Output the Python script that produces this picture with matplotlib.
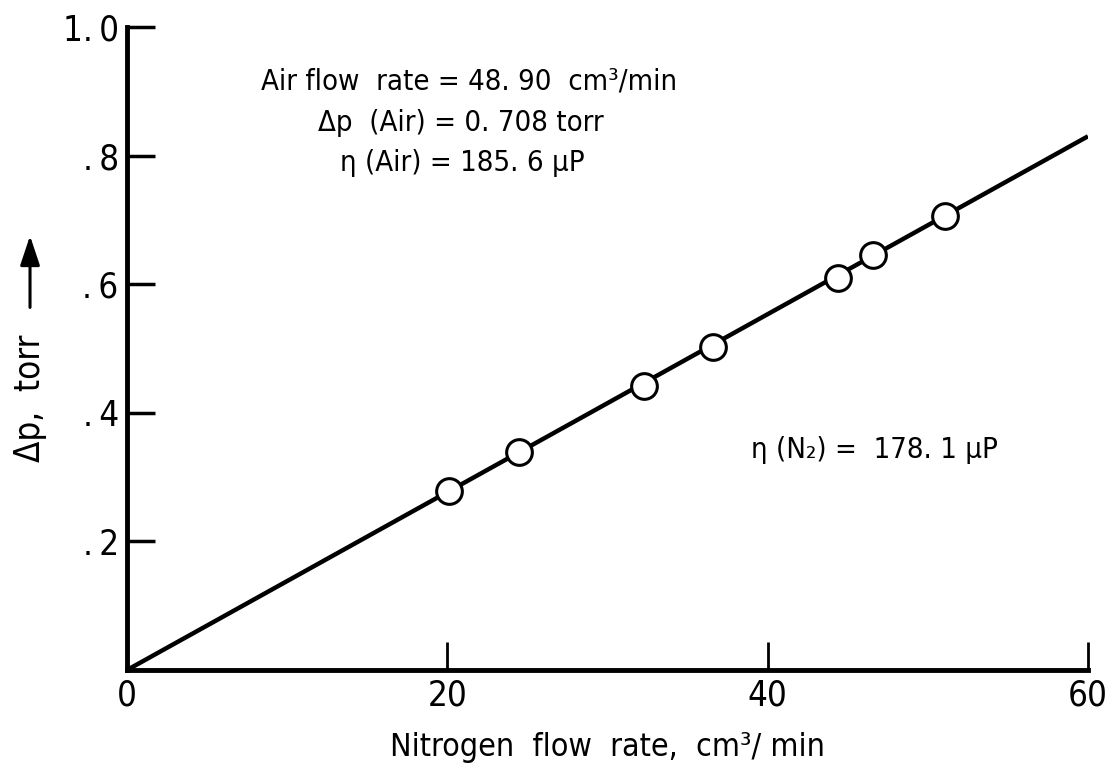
import matplotlib
matplotlib.use("Agg")
import matplotlib.pyplot as plt
import numpy as np

plt.rcParams['font.family'] = ['DejaVu Sans']
plt.rcParams['font.stretch'] = 'condensed'

# measured points
n2_flow = [20.1, 24.5, 32.3, 36.6, 44.4, 46.6, 51.1]
dp = [0.278, 0.339, 0.442, 0.503, 0.610, 0.646, 0.706]

# fitted line end points
line_x = [0, 60]
line_y = [0, 0.830]

x_ticks = [0, 20, 40, 60]
x_labels = ["0", "20", "40", "60"]
y_ticks = [0.2, 0.4, 0.6, 0.8, 1.0]
y_labels = [".\u20092", ".\u20094", ".\u20096", ".\u20098", "1.\u20090"]

fig = plt.figure(figsize=(11.12, 7.64), dpi=100)
ax = fig.add_axes([0.1142, 0.1230, 0.8642, 0.8417])

ax.plot(line_x, line_y, color="black", lw=3.2, solid_capstyle="butt", zorder=2)
ax.plot(n2_flow, dp, "o", ms=18.5, mfc="white", mec="black", mew=2.2, zorder=3)

ax.set_xlim(0, 60)
ax.set_ylim(0, 1.0)
for s in ["top", "right"]:
    ax.spines[s].set_visible(False)
for s in ["left", "bottom"]:
    ax.spines[s].set_linewidth(3.5)

ax.set_xticks(x_ticks)
ax.set_xticklabels(x_labels)
ax.set_yticks(y_ticks)
ax.set_yticklabels(y_labels)
ax.tick_params(axis="x", direction="in", length=20, width=2, labelsize=25, pad=6)
ax.tick_params(axis="y", direction="in", length=20, width=2.5, labelsize=25, pad=6)
ax.xaxis.get_major_ticks()[0].tick1line.set_visible(False)

ax.set_xlabel("Nitrogen  flow  rate,  cm³/ min", fontsize=23, labelpad=14)

# y label with a separate long arrow
fig.text(0.027, 0.479, "Δp,  torr", rotation=90, fontsize=25,
         ha="center", va="center")
fig.add_artist(matplotlib.patches.FancyArrowPatch(
    (0.027, 0.594), (0.027, 0.695), transform=fig.transFigure,
    arrowstyle="-|>,head_length=0.9,head_width=0.3", lw=2.2,
    color="black", mutation_scale=20))

fig.text(0.422, 0.893, "Air flow  rate = 48. 90  cm³/min", fontsize=21,
         ha="center", va="center")
fig.text(0.414, 0.839, "Δp  (Air) = 0. 708 torr", fontsize=21,
         ha="center", va="center")
fig.text(0.416, 0.787, "η (Air) = 185. 6 µP", fontsize=21,
         ha="center", va="center")
fig.text(0.786, 0.411, "η (N₂) =  178. 1 µP", fontsize=21,
         ha="center", va="center")

fig.savefig("out.png", dpi=100)
